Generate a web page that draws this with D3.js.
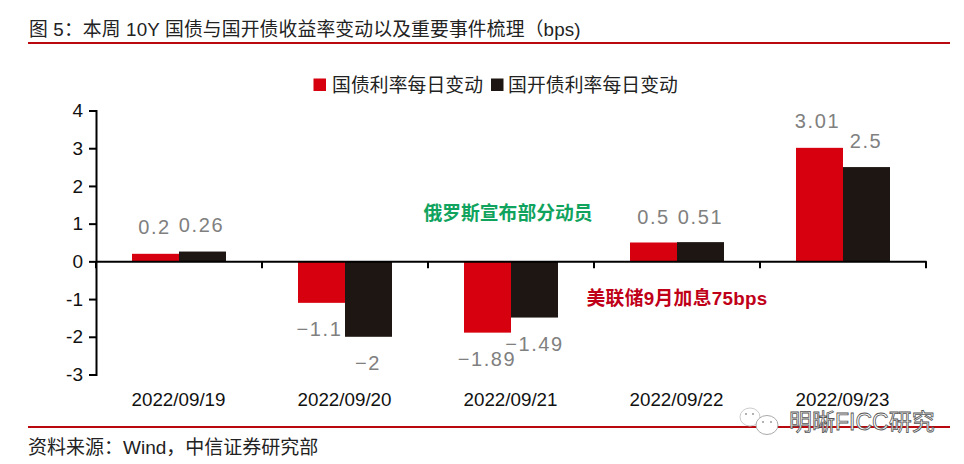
<!DOCTYPE html>
<html><head><meta charset="utf-8">
<script src="https://cdn.jsdelivr.net/npm/d3@7/dist/d3.min.js"></script>
<style>html,body{margin:0;background:#fff}svg{display:block}
text{font-family:"Liberation Sans","Noto Sans CJK SC",sans-serif}</style></head>
<body><svg id="c" width="964" height="464"></svg>
<script>
const dates=["2022/09/19","2022/09/20","2022/09/21","2022/09/22","2022/09/23"];
const seriesNames=["国债利率每日变动","国开债利率每日变动"];
const govBond=[0.2,-1.1,-1.89,0.5,3.01];
const cdbBond=[0.26,-2,-1.49,0.51,2.5];
const yTicks=[4,3,2,1,0,-1,-2,-3];
const colors=["#d7000f","#1e1612"];
const titleText="图 5\uFF1A本周 10Y 国债与国开债收益率变动以及重要事件梳理\uFF08bps)";
const sourceText="资料来源\uFF1AWind\uFF0C中信证券研究部";
const notes=[{t:"俄罗斯宣布部分动员",x:"2022/09/21",v:1.09,c:"#10a35e",dx:-3,ls:0},
             {t:"美联储9月加息75bps",x:"2022/09/22",v:-1.17,c:"#c00018",dx:0,ls:0.3}];
const lblOff=[[[-1,-20],[-2,33],[-0.5,33],[0,-19],[-2,-20]],
              [[-1,-20],[-0.5,33],[0,33],[0,-18],[-0.5,-19]]];

const svg=d3.select("#c");
const x=d3.scaleBand().domain(dates).range([96,926]);
const y=d3.scaleLinear().domain([-3,4]).range([374.5,110.5]);
const barW=47;
const mid=d=>x(d)+x.bandwidth()/2;

const rule=(yy)=>svg.append("line").attr("x1",28).attr("x2",950).attr("y1",yy).attr("y2",yy).attr("stroke","#b8090f").attr("stroke-width",2);
svg.append("text").attr("x",29).attr("y",36).attr("font-size",18.8).attr("letter-spacing",0.15).attr("fill","#222").text(titleText);
rule(43);rule(427);
svg.append("text").attr("x",28).attr("y",454).attr("font-size",19).attr("fill","#222").text(sourceText);

// legend
const lg=[[313.5,332],[491,508]];
seriesNames.forEach((n,i)=>{
  svg.append("rect").attr("x",lg[i][0]).attr("y",78.5).attr("width",12.5).attr("height",12.5).attr("fill",colors[i]);
  svg.append("text").attr("x",lg[i][1]).attr("y",92).attr("font-size",18.8).attr("letter-spacing",0.1).attr("fill","#222").text(n);
});

// bars
[govBond,cdbBond].forEach((vals,s)=>{
  svg.append("g").selectAll("rect").data(vals).join("rect")
    .attr("x",(d,i)=>mid(dates[i])+(s?0:-barW))
    .attr("width",barW)
    .attr("y",d=>Math.min(y(d),y(0)))
    .attr("height",d=>Math.abs(y(d)-y(0)))
    .attr("fill",colors[s]);
  svg.append("g").selectAll("text").data(vals).join("text")
    .attr("x",(d,i)=>mid(dates[i])+(s?barW/2:-barW/2)+lblOff[s][i][0])
    .attr("y",(d,i)=>y(d)+lblOff[s][i][1])
    .attr("text-anchor","middle")
    .attr("font-size",20).attr("letter-spacing",1.6).attr("fill","#808080")
    .text(d=>String(d).replace("-","−"));
});

// axes
const ax=svg.append("g").attr("transform","translate(96,0)")
  .call(d3.axisLeft(y).tickValues(yTicks).tickFormat(d=>String(d)).tickSize(7).tickPadding(6));
ax.selectAll("path,line").attr("stroke","#000").attr("stroke-width",2);
ax.selectAll("text").attr("font-size",19).attr("fill","#111");
const bx=svg.append("g").attr("transform",`translate(0,${y(0)})`)
  .call(d3.axisBottom(x).tickValues([]).tickSize(0));
bx.selectAll("path").attr("stroke","#000").attr("stroke-width",2);
svg.append("g").selectAll("line").data(d3.range(6)).join("line")
  .attr("x1",i=>96+i*x.step()).attr("x2",i=>96+i*x.step())
  .attr("y1",y(0)).attr("y2",y(0)+7).attr("stroke","#000").attr("stroke-width",2);
svg.append("g").selectAll("text").data(dates).join("text")
  .attr("x",d=>mid(d)-0.5).attr("y",406).attr("text-anchor","middle")
  .attr("font-size",18.8).attr("fill","#111").text(d=>d);

// annotations
notes.forEach(n=>svg.append("text").attr("x",mid(n.x)+n.dx).attr("y",y(n.v)).attr("text-anchor","middle")
  .attr("font-size",18.8).attr("font-weight","bold").attr("letter-spacing",n.ls).attr("fill",n.c).text(n.t));

// watermark
const wm=svg.append("g");
wm.append("text").attr("x",789).attr("y",430).attr("font-size",23).attr("fill","#fff").attr("stroke","#555").attr("stroke-width",0.8).text("明晰FICC研究");
wm.append("ellipse").attr("cx",750).attr("cy",417).attr("rx",10).attr("ry",9).attr("fill","#fff").attr("stroke","#ccc");
wm.append("ellipse").attr("cx",767).attr("cy",425).attr("rx",11).attr("ry",9.5).attr("fill","#fff").attr("stroke","#aaa");
[[746,414],[753,414],[763,422],[771,422]].forEach(p=>wm.append("circle").attr("cx",p[0]).attr("cy",p[1]).attr("r",1).attr("fill","#999"));
</script></body></html>
